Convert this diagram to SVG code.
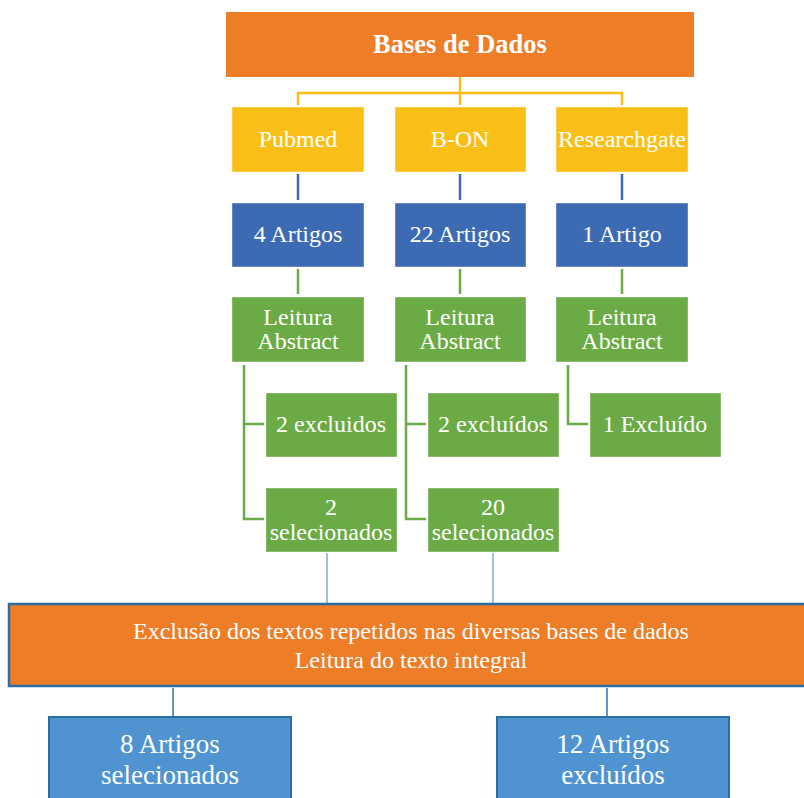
<svg xmlns="http://www.w3.org/2000/svg" width="804" height="798" viewBox="0 0 804 798">
<style>
text{font-family:"Liberation Serif","Times New Roman",serif;fill:#fff;text-anchor:middle}
.t24{font-size:24px}
.orange{fill:#ED7D26}
.yellow{fill:#FABF17;stroke:#fff;stroke-opacity:.4;stroke-width:1}
.blue{fill:#3C6BB4;stroke:#fff;stroke-opacity:.4;stroke-width:1}
.green{fill:#6AAB45;stroke:#fff;stroke-opacity:.4;stroke-width:1}
.lblue{fill:#4F94D0;stroke:#2E6DA4;stroke-width:2}
.cy{stroke:#FABF17;stroke-width:2.5;fill:none}
.cb{stroke:#3C6BB4;stroke-width:2.5;fill:none}
.cg{stroke:#6AAB45;stroke-width:2.5;fill:none}
.cl{stroke:#5B9BD5;stroke-width:1.2;fill:none}
.cd{stroke:#2E75B6;stroke-width:1.5;fill:none}
</style>
<rect width="804" height="798" fill="#fff"/>
<g id="connectors">
<path class="cy" d="M460 77V93M298 105V93H622V105M460 93V105"/>
<path class="cb" d="M298 174V200M460 174V200M622 174V200"/>
<path class="cg" d="M298 269V294M460 269V294M622 269V294"/>
<path class="cg" d="M244 365V519H264M244 424H264M406 365V519H426M406 424H426M568 365V424H588"/>
<path class="cl" d="M327 553V603M493 553V603"/>
<path class="cd" d="M173 688V716M607 688V716"/>
</g>
<g id="bases">
<rect class="orange" x="226" y="12" width="468" height="65"/>
<text x="460" y="53" style="font-size:26.5px;font-weight:bold">Bases de Dados</text>
</g>
<g id="pubmed"><rect class="yellow" x="232" y="107" width="132" height="65"/><text class="t24" x="298" y="147">Pubmed</text></g>
<g id="bon"><rect class="yellow" x="395" y="107" width="131" height="65"/><text class="t24" x="460" y="147">B-ON</text></g>
<g id="researchgate"><rect class="yellow" x="556" y="107" width="132" height="65"/><text class="t24" x="622" y="147">Researchgate</text></g>
<g id="art4"><rect class="blue" x="232" y="203" width="132" height="64"/><text class="t24" x="298" y="242">4 Artigos</text></g>
<g id="art22"><rect class="blue" x="395" y="203" width="131" height="64"/><text class="t24" x="460" y="242">22 Artigos</text></g>
<g id="art1"><rect class="blue" x="556" y="203" width="132" height="64"/><text class="t24" x="622" y="242">1 Artigo</text></g>
<g id="leit1"><rect class="green" x="232" y="297" width="132" height="65"/><text class="t24" x="298" y="325">Leitura</text><text class="t24" x="298" y="349">Abstract</text></g>
<g id="leit2"><rect class="green" x="395" y="297" width="131" height="65"/><text class="t24" x="460" y="325">Leitura</text><text class="t24" x="460" y="349">Abstract</text></g>
<g id="leit3"><rect class="green" x="556" y="297" width="132" height="65"/><text class="t24" x="622" y="325">Leitura</text><text class="t24" x="622" y="349">Abstract</text></g>
<g id="exc1"><rect class="green" x="266" y="393" width="131" height="64"/><text class="t24" x="331" y="432">2 excluidos</text></g>
<g id="exc2"><rect class="green" x="428" y="393" width="131" height="64"/><text class="t24" x="493" y="432">2 excluídos</text></g>
<g id="exc3"><rect class="green" x="590" y="393" width="131" height="64"/><text class="t24" x="655" y="432">1 Excluído</text></g>
<g id="sel1"><rect class="green" x="266" y="488" width="131" height="64"/><text class="t24" x="331" y="515">2</text><text class="t24" x="331" y="540">selecionados</text></g>
<g id="sel2"><rect class="green" x="428" y="488" width="131" height="64"/><text class="t24" x="493" y="515">20</text><text class="t24" x="493" y="540">selecionados</text></g>
<g id="exclusao">
<rect x="9" y="604" width="800" height="82" fill="#ED7D26" stroke="#2E6DA4" stroke-width="2.5"/>
<text x="411" y="639" style="font-size:24px">Exclusão dos textos repetidos nas diversas bases de dados</text>
<text x="411" y="668" style="font-size:24px">Leitura do texto integral</text>
</g>
<g id="sel8"><rect class="lblue" x="49" y="717" width="242" height="90"/><text x="170" y="753" style="font-size:27px">8 Artigos</text><text x="170" y="784" style="font-size:27px">selecionados</text></g>
<g id="exc12"><rect class="lblue" x="497" y="717" width="232" height="90"/><text x="613" y="753" style="font-size:27px">12 Artigos</text><text x="613" y="784" style="font-size:27px">excluídos</text></g>
</svg>
